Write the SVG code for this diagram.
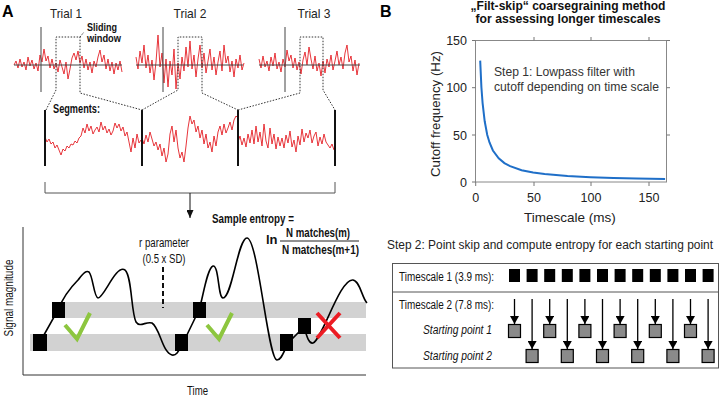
<svg xmlns="http://www.w3.org/2000/svg" width="720" height="398" viewBox="0 0 720 398">
<defs>
<style>
.cond{font-family:"Liberation Sans Narrow","Liberation Sans",Arial,sans-serif;fill:#111}
.reg{font-family:"Liberation Sans",Arial,sans-serif;fill:#222}
.sig{fill:none;stroke:#e41f26;stroke-width:0.9;stroke-linejoin:round}
.dot{fill:none;stroke:#333;stroke-width:1;stroke-dasharray:1.5,1.5}
.seg{stroke:#111;stroke-width:2}
.ax{stroke:#444;stroke-width:1}
.blk{fill:#000}
.gsq{fill:#8a8a8a;stroke:#000;stroke-width:1.2}
.arr{stroke:#000;stroke-width:1.3;marker-end:url(#ah)}
.tick{stroke:#777;stroke-width:1}
</style>
<marker id="ah" viewBox="0 0 10 10" refX="10" refY="5" markerWidth="8" markerHeight="9" markerUnits="userSpaceOnUse" orient="auto" preserveAspectRatio="none"><path d="M0,0 L10,5 L0,10 z" fill="#000"/></marker>
<marker id="ah2" viewBox="0 0 10 10" refX="10" refY="5" markerWidth="8" markerHeight="7" markerUnits="userSpaceOnUse" orient="auto" preserveAspectRatio="none"><path d="M0,0 L10,5 L0,10 z" fill="#111"/></marker>
</defs>
<rect width="720" height="398" fill="#fff"/>

<!-- Panel labels -->
<text x="2" y="17" style="font-family:'Liberation Sans',Arial,sans-serif;font-weight:bold;font-size:16px">A</text>
<text x="380" y="17" style="font-family:'Liberation Sans',Arial,sans-serif;font-weight:bold;font-size:16px">B</text>

<!-- Trials -->
<g id="trial1">
<text class="reg" x="66" y="18" font-size="13" text-anchor="middle" textLength="32" lengthAdjust="spacingAndGlyphs">Trial 1</text>
<polyline class="sig" vector-effect="non-scaling-stroke" transform="translate(14,65) scale(2,1)" points="0,0 1,-4 2,3 3,-6 4,2 5,-3 6,5 7,-8 8,1 9,-5 10,4 11,-2 12,6 13,-10 14,-3 15,-16 16,-4 17,-9 18,3 19,-6 20,4 21,-2 22,7 23,-5 24,2 25,9 26,-3 27,14 28,4 29,-7 30,-12 31,-5 32,-14 33,-2 34,-9 35,3 36,-6 37,5 38,-3 39,8 40,-4 41,2 42,-8 43,-15 44,-3 45,-10 46,4 47,-6 48,6 49,-3 50,9 51,-2 52,5 53,-4 54,7"/>
<line class="ax" x1="14" y1="65" x2="122" y2="65" stroke="#666"/>
<line class="ax" x1="41" y1="27" x2="41" y2="92"/>
</g>
<g id="trial2">
<text class="reg" x="190" y="18" font-size="13" text-anchor="middle" textLength="33" lengthAdjust="spacingAndGlyphs">Trial 2</text>
<polyline class="sig" vector-effect="non-scaling-stroke" transform="translate(136,65) scale(2,1)" points="0,-8 1,4 2,-14 3,-2 4,-20 5,3 6,-10 7,8 8,-5 9,15 10,-3 11,-30 12,2 13,-12 14,18 15,-6 16,22 17,-4 18,10 19,-16 20,24 21,-2 22,14 23,-8 24,6 25,-18 26,2 27,-24 28,4 29,-10 30,12 31,-6 32,-20 33,3 34,-12 35,8 36,-4 37,-16 38,5 39,-8 40,10 41,-3 42,-14 43,6 44,-20 45,-2 46,-9 47,7 48,-4 49,12 50,-6 51,3 52,-10 53,5 54,-2"/>
<line class="ax" x1="136" y1="65" x2="243" y2="65" stroke="#666"/>
<line class="ax" x1="163" y1="27" x2="163" y2="92"/>
</g>
<g id="trial3">
<text class="reg" x="314" y="18" font-size="13" text-anchor="middle" textLength="33" lengthAdjust="spacingAndGlyphs">Trial 3</text>
<polyline class="sig" vector-effect="non-scaling-stroke" transform="translate(259,65) scale(2,1)" points="0,-6 1,3 2,-9 3,2 4,-4 5,6 6,-8 7,1 8,-12 9,4 10,-3 11,7 12,-6 13,2 14,-15 15,-4 16,-10 17,3 18,-7 19,5 20,-3 21,9 22,-5 23,-13 24,0 25,-18 26,-6 27,4 28,-9 29,6 30,-2 31,11 32,-4 33,8 34,-6 35,2 36,-10 37,5 38,-4 39,-14 40,0 41,-8 42,4 43,-12 44,-20 45,-3 46,-9 47,6 48,-5 49,10 50,-2"/>
<line class="ax" x1="259" y1="65" x2="360" y2="65" stroke="#666"/>
<line class="ax" x1="285" y1="27" x2="285" y2="92"/>
</g>

<g id="sliding-window-label">
<text class="cond" x="87" y="30.5" font-size="11.5" font-weight="bold" textLength="30" lengthAdjust="spacingAndGlyphs">Sliding</text>
<text class="cond" x="87" y="42" font-size="11.5" font-weight="bold" textLength="34" lengthAdjust="spacingAndGlyphs">window</text>
</g>

<!-- Segments -->
<g id="segments">
<text class="cond" x="53" y="113" font-size="12" font-weight="bold" textLength="47" lengthAdjust="spacingAndGlyphs">Segments:</text>
<polyline class="sig" vector-effect="non-scaling-stroke" transform="translate(45,140) scale(2,1)" points="0,-3 1,2 2,-1 3,4 4,2 5,8 6,5 7,10 8,15 9,9 10,11 11,6 12,8 13,4 14,5 15,1 16,3 17,-2 18,-4 19,-12 20,-7 21,-16 22,-9 23,-14 24,-6 25,-10 26,-13 27,-8 28,-18 29,-10 30,-14 31,-7 32,-11 33,-5 34,-9 35,-17 36,-12 37,-16 38,-9 39,-13 40,-4 41,-8 42,2 43,12 44,-2 45,8 46,-6 47,3 48,0"/>
<polyline class="sig" vector-effect="non-scaling-stroke" transform="translate(142,140) scale(2,1)" points="0,-2 1,4 2,-5 3,2 4,-8 5,-1 6,6 7,2 8,10 9,4 10,16 11,8 12,22 13,14 14,-6 15,-14 16,2 17,-10 18,8 19,18 20,12 21,22 22,6 23,-12 24,-24 25,-16 26,-20 27,-8 28,-14 29,-2 30,-10 31,4 32,-6 33,8 34,2 35,12 36,-4 37,6 38,-8 39,-14 40,-5 41,-16 42,-7 43,-12 44,-18 45,-10 46,-20 47,-24 48,-22"/>
<polyline class="sig" vector-effect="non-scaling-stroke" transform="translate(238,140) scale(2,1)" points="0,2 1,-4 2,5 3,-2 4,7 5,-6 6,3 7,-10 8,4 9,-14 10,2 11,-8 12,6 13,-16 14,1 15,8 16,-12 17,4 18,-6 19,9 20,-3 21,6 22,-2 23,8 24,-5 25,3 26,-9 27,7 28,0 29,12 30,-4 31,5 32,-11 33,2 34,-7 35,-2 36,-10 37,3 38,-4 39,-8 40,6 41,-3 42,4 43,-6 44,2 45,5 46,8 47,4 48,10"/>
<line class="seg" x1="45" y1="110" x2="45" y2="166"/>
<line class="seg" x1="142" y1="110" x2="142" y2="166"/>
<line class="seg" x1="238" y1="110" x2="238" y2="166"/>
<line class="seg" x1="335" y1="110" x2="335" y2="166"/>
</g>

<!-- Connectors -->
<g id="connectors">
<path class="dot" d="M46,110 L56,90 V37 H80 V93 L142,110"/>
<path class="dot" d="M142,110 L178,90 V37 H202 V93 L238,110"/>
<path class="dot" d="M238,110 L300,93 V37 H323 V90 L335,110"/>
<path class="dot" d="M80,37 L84,32"/>
<path d="M45,182 V193 H335 V182" fill="none" stroke="#555" stroke-width="1"/>
<line x1="190" y1="193" x2="190" y2="218" stroke="#111" stroke-width="1" marker-end="url(#ah2)"/>
</g>

<!-- Sample entropy plot -->
<g id="sampen-plot">
<rect x="57" y="302" width="309" height="16" fill="#d2d2d2"/>
<rect x="30" y="334" width="336" height="17" fill="#d2d2d2"/>
<path d="M23,227 V375 H366" fill="none" stroke="#333" stroke-width="1"/>
<path d="M40,342 L58,310 C62,300 70,288 78,280 C83,274 86,270 89,272 C93,276 94,298 98,298 C104,298 116,264 125,270 C132,276 131,312 136,322 C140,328 146,321 152,323 C160,328 162,352 172,355 C177,356 179,350 184,341 L199,310 C203,298 207,268 213,266 C219,265 218,298 223,298 C232,298 238,238 247,238 C258,238 268,360 277,360 C282,360 284,350 289,342 L304,327 C307,337 309,344 313,343 C322,340 340,278 353,280 C360,281 362,298 367,303" fill="none" stroke="#000" stroke-width="1.6"/>
<rect class="blk" x="33" y="334" width="14" height="17"/>
<rect class="blk" x="52" y="302" width="13" height="16"/>
<rect class="blk" x="175" y="334" width="13" height="17"/>
<rect class="blk" x="193" y="302" width="13" height="16"/>
<rect class="blk" x="280" y="334" width="13" height="17"/>
<rect class="blk" x="298" y="318" width="13" height="16"/>
<path d="M65,325 L77,339 L90,313" fill="none" stroke="#8dc63f" stroke-width="4"/>
<path d="M207,325 L219,339 L232,313" fill="none" stroke="#8dc63f" stroke-width="4"/>
<path d="M317,313 L340,338 M340,313 L317,338" stroke="#ec1c24" stroke-width="4"/>
<line x1="163" y1="267" x2="163" y2="308" stroke="#111" stroke-width="2" stroke-dasharray="5,3"/>
<text class="cond" x="164" y="247" font-size="12" text-anchor="middle" textLength="50" lengthAdjust="spacingAndGlyphs">r parameter</text>
<text class="cond" x="164" y="263" font-size="12" text-anchor="middle" textLength="43" lengthAdjust="spacingAndGlyphs">(0.5 x SD)</text>
<text class="cond" x="212" y="223" font-size="12.5" font-weight="bold" textLength="82" lengthAdjust="spacingAndGlyphs">Sample entropy =</text>
<text x="266" y="244" style="font-family:'Liberation Sans',Arial,sans-serif;font-weight:bold;font-size:13px;fill:#111">ln</text>
<text class="cond" x="286" y="237" font-size="12.5" font-weight="bold" textLength="64" lengthAdjust="spacingAndGlyphs">N matches(m)</text>
<line x1="280" y1="241" x2="359" y2="241" stroke="#222" stroke-width="1"/>
<text class="cond" x="282" y="254" font-size="12.5" font-weight="bold" textLength="77" lengthAdjust="spacingAndGlyphs">N matches(m+1)</text>
<text class="cond" transform="translate(13,298) rotate(-90)" font-size="12" text-anchor="middle" textLength="77" lengthAdjust="spacingAndGlyphs">Signal magnitude</text>
<text class="cond" x="197.5" y="395" font-size="12" text-anchor="middle" textLength="21" lengthAdjust="spacingAndGlyphs">Time</text>
</g>

<!-- Panel B title -->
<g id="titleB">
<text x="568" y="10" text-anchor="middle" style="font-family:'Liberation Sans',Arial,sans-serif;font-weight:bold;font-size:12.5px;fill:#111" textLength="195" lengthAdjust="spacingAndGlyphs">„Filt-skip“ coarsegraining method</text>
<text x="568" y="23" text-anchor="middle" style="font-family:'Liberation Sans',Arial,sans-serif;font-weight:bold;font-size:12.5px;fill:#111" textLength="185" lengthAdjust="spacingAndGlyphs">for assessing longer timescales</text>
</g>

<!-- Cutoff plot -->
<g id="cutoff-plot">
<rect x="475.5" y="40.5" width="191" height="141.5" fill="none" stroke="#888" stroke-width="1"/>
<path class="tick" d="M472,40.5 H475.5 M472,87.7 H475.5 M472,135 H475.5 M472,182 H475.5 M666.5,87.7 H670 M666.5,135 H670 M666.5,40.5 H670 M475.7,182 V186 M534,182 V186 M591,182 V186 M649,182 V186 M534,40.5 V37 M591,40.5 V37 M649,40.5 V37"/>
<polyline fill="none" stroke="#1f6fc8" stroke-width="2" points="480.2,60.6 481.4,87.3 482.6,103.1 484.7,121.3 487.2,134.7 489.5,142.5 492.9,150.5 498.7,158.3 504.4,163.1 510.1,166.2 521.6,170.2 533.1,172.5 544.6,174.1 567.5,176.1 590.5,177.3 613.5,178.1 636.4,178.6 665.1,179.1"/>
<g class="reg" font-size="12.5" text-anchor="end">
<text x="467" y="45">150</text>
<text x="467" y="92">100</text>
<text x="467" y="139.5">50</text>
<text x="467" y="186.5">0</text>
</g>
<g class="reg" font-size="12.5" text-anchor="middle">
<text x="475.7" y="202">0</text>
<text x="534" y="202">50</text>
<text x="591" y="202">100</text>
<text x="649" y="202">150</text>
</g>
<text class="reg" x="570" y="222" font-size="13.5" text-anchor="middle">Timescale (ms)</text>
<text class="reg" transform="translate(440,114) rotate(-90)" font-size="13.5" text-anchor="middle" textLength="126" lengthAdjust="spacingAndGlyphs">Cutoff frequency (Hz)</text>
<text class="reg" x="494" y="76" font-size="12.5" style="fill:#333" textLength="141" lengthAdjust="spacingAndGlyphs">Step 1: Lowpass filter with</text>
<text class="reg" x="494" y="91" font-size="12.5" style="fill:#333" textLength="165" lengthAdjust="spacingAndGlyphs">cutoff depending on time scale</text>
</g>

<!-- Step 2 -->
<g id="step2">
<text class="reg" x="387" y="249" font-size="12" textLength="326" lengthAdjust="spacingAndGlyphs">Step 2: Point skip and compute entropy for each starting point</text>
<rect x="392.5" y="263.5" width="326" height="104.5" fill="none" stroke="#555" stroke-width="1"/>
<line x1="392.5" y1="292" x2="718.5" y2="292" stroke="#555" stroke-width="1"/>
<text class="cond" x="399" y="281" font-size="12" textLength="95" lengthAdjust="spacingAndGlyphs">Timescale 1 (3.9 ms):</text>
<text class="cond" x="399" y="309" font-size="12" textLength="95" lengthAdjust="spacingAndGlyphs">Timescale 2 (7.8 ms):</text>
<text class="cond" x="492" y="334" font-size="12" font-style="italic" text-anchor="end" textLength="69" lengthAdjust="spacingAndGlyphs">Starting point 1</text>
<text class="cond" x="492" y="360" font-size="12" font-style="italic" text-anchor="end" textLength="69" lengthAdjust="spacingAndGlyphs">Starting point 2</text>
<g class="blk">
<rect x="509" y="269" width="11" height="13"/>
<rect x="526.6" y="269" width="11" height="13"/>
<rect x="544.2" y="269" width="11" height="13"/>
<rect x="561.8" y="269" width="11" height="13"/>
<rect x="579.4" y="269" width="11" height="13"/>
<rect x="597" y="269" width="11" height="13"/>
<rect x="614.6" y="269" width="11" height="13"/>
<rect x="632.2" y="269" width="11" height="13"/>
<rect x="649.8" y="269" width="11" height="13"/>
<rect x="667.4" y="269" width="11" height="13"/>
<rect x="685" y="269" width="11" height="13"/>
<rect x="702.6" y="269" width="11" height="13"/>
</g>
<g>
<line class="arr" x1="514.5" y1="299" x2="514.5" y2="324"/>
<line class="arr" x1="532.1" y1="299" x2="532.1" y2="349"/>
<line class="arr" x1="549.7" y1="299" x2="549.7" y2="324"/>
<line class="arr" x1="567.3" y1="299" x2="567.3" y2="349"/>
<line class="arr" x1="584.9" y1="299" x2="584.9" y2="324"/>
<line class="arr" x1="602.5" y1="299" x2="602.5" y2="349"/>
<line class="arr" x1="620.1" y1="299" x2="620.1" y2="324"/>
<line class="arr" x1="637.7" y1="299" x2="637.7" y2="349"/>
<line class="arr" x1="655.3" y1="299" x2="655.3" y2="324"/>
<line class="arr" x1="672.9" y1="299" x2="672.9" y2="349"/>
<line class="arr" x1="690.5" y1="299" x2="690.5" y2="324"/>
<line class="arr" x1="708.1" y1="299" x2="708.1" y2="349"/>
</g>
<g class="gsq">
<rect x="508.5" y="324.5" width="12" height="13"/>
<rect x="543.7" y="324.5" width="12" height="13"/>
<rect x="578.9" y="324.5" width="12" height="13"/>
<rect x="614.1" y="324.5" width="12" height="13"/>
<rect x="649.3" y="324.5" width="12" height="13"/>
<rect x="684.5" y="324.5" width="12" height="13"/>
<rect x="526.1" y="349.5" width="12" height="13"/>
<rect x="561.3" y="349.5" width="12" height="13"/>
<rect x="596.5" y="349.5" width="12" height="13"/>
<rect x="631.7" y="349.5" width="12" height="13"/>
<rect x="666.9" y="349.5" width="12" height="13"/>
<rect x="702.1" y="349.5" width="12" height="13"/>
</g>
</g>
</svg>
